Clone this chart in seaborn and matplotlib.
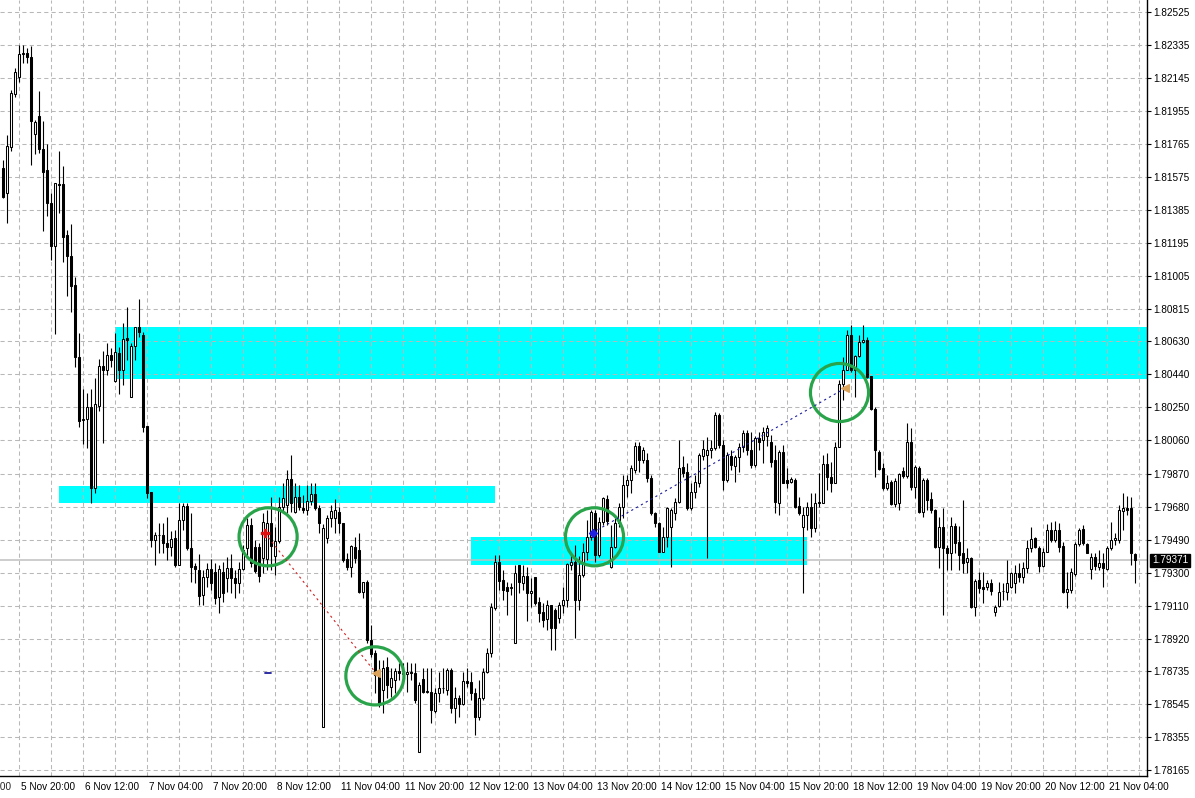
import numpy as np
import pandas as pd
import matplotlib
matplotlib.use("Agg")
import matplotlib.pyplot as plt
import matplotlib.transforms as mtransforms
from matplotlib.patches import Rectangle
import seaborn as sns

# hourly candles, oldest first
opens = [
    1.81626, 1.81486, 1.81751, 1.82052, 1.82153, 1.82283, 1.82291, 1.82264, 1.81821, 1.81927,
    1.81737, 1.81616, 1.81425, 1.81179, 1.81536, 1.81534, 1.81243, 1.81124, 1.80955, 1.80543,
    1.80179, 1.80182, 1.80251, 1.79786, 1.80261, 1.80489, 1.80466, 1.80552, 1.80405, 1.80562,
    1.80466, 1.80648, 1.80313, 1.80604, 1.80715, 1.80667, 1.80144, 1.79766, 1.79488, 1.79517,
    1.79517, 1.79469, 1.79449, 1.79498, 1.79344, 1.79603, 1.79684, 1.79440, 1.79336, 1.79315,
    1.79171, 1.79277, 1.79319, 1.79305, 1.79162, 1.79305, 1.79268, 1.79325, 1.79271, 1.79242,
    1.79319, 1.79440, 1.79574, 1.79446, 1.79446, 1.79383, 1.79377, 1.79587, 1.79396, 1.79484,
    1.79679, 1.79689, 1.79837, 1.79651, 1.79737, 1.79674, 1.79661, 1.79712, 1.79751, 1.79670,
    1.78414, 1.79498, 1.79613, 1.79614, 1.79651, 1.79587, 1.79377, 1.79334, 1.79449, 1.79430,
    1.79191, 1.79248, 1.78913, 1.78836, 1.78725, 1.78625, 1.78756, 1.78644, 1.78683, 1.78736,
    1.78721, 1.78717, 1.78729, 1.78721, 1.78270, 1.78687, 1.78615, 1.78615, 1.78506, 1.78606,
    1.78635, 1.78625, 1.78740, 1.78520, 1.78577, 1.78545, 1.78679, 1.78673, 1.78610, 1.78472,
    1.78577, 1.78730, 1.78836, 1.79095, 1.79363, 1.79258, 1.79216, 1.79213, 1.78897, 1.79344,
    1.79242, 1.79281, 1.79181, 1.79273, 1.79133, 1.79076, 1.79032, 1.79114, 1.79085, 1.79038,
    1.79114, 1.79143, 1.79344, 1.79363, 1.79143, 1.79287, 1.79421, 1.79507, 1.79641, 1.79402,
    1.79593, 1.79722, 1.79334, 1.79449, 1.79584, 1.79679, 1.79804, 1.79833, 1.79891, 1.80029,
    1.79948, 1.79948, 1.79843, 1.79641, 1.79587, 1.79421, 1.79507, 1.79564, 1.79641, 1.79708,
    1.79910, 1.79881, 1.79670, 1.79766, 1.79814, 1.79971, 1.79977, 1.80006, 1.80017, 1.80207,
    1.80034, 1.79833, 1.79971, 1.79914, 1.79965, 1.80023, 1.80103, 1.80006, 1.79919, 1.80075,
    1.80063, 1.80086, 1.80053, 1.79948, 1.79702, 1.79996, 1.79833, 1.79823, 1.79833, 1.79684,
    1.79564, 1.79632, 1.79679, 1.79555, 1.79699, 1.79702, 1.79925, 1.79852, 1.79817, 1.80025,
    1.80385, 1.80466, 1.80667, 1.80466, 1.80546, 1.80625, 1.80638, 1.80431, 1.80240, 1.79996,
    1.79900, 1.79785, 1.79823, 1.79695, 1.79699, 1.79887, 1.79856, 1.80053, 1.79795, 1.79900,
    1.79651, 1.79833, 1.79722, 1.79661, 1.79449, 1.79564, 1.79440, 1.79415, 1.79568, 1.79478,
    1.79411, 1.79363, 1.79386, 1.79104, 1.79258, 1.79219, 1.79219, 1.79242, 1.79076, 1.79110,
    1.79195, 1.79187, 1.79219, 1.79242, 1.79296, 1.79277, 1.79325, 1.79440, 1.79498, 1.79444,
    1.79340, 1.79421, 1.79545, 1.79488, 1.79545, 1.79455, 1.79191, 1.79200, 1.79292, 1.79463,
    1.79549, 1.79465, 1.79319, 1.79392, 1.79334, 1.79357, 1.79323, 1.79440, 1.79488, 1.79488,
    1.79655, 1.79674, 1.79670, 1.79407,
]
highs = [
    1.81674, 1.81818, 1.82076, 1.82201, 1.82335, 1.82335, 1.82316, 1.82331, 1.81904, 1.82071,
    1.81900, 1.81766, 1.81482, 1.81544, 1.81726, 1.81639, 1.81271, 1.81306, 1.81003, 1.80677,
    1.80355, 1.80336, 1.80355, 1.80418, 1.80530, 1.80576, 1.80620, 1.80591, 1.80677, 1.80600,
    1.80735, 1.80830, 1.80620, 1.80715, 1.80873, 1.80687, 1.80144, 1.79766, 1.79536, 1.79586,
    1.79587, 1.79622, 1.79540, 1.79545, 1.79699, 1.79699, 1.79699, 1.79641, 1.79354, 1.79407,
    1.79315, 1.79354, 1.79377, 1.79354, 1.79344, 1.79363, 1.79392, 1.79407, 1.79315, 1.79363,
    1.79459, 1.79613, 1.79613, 1.79488, 1.79469, 1.79641, 1.79661, 1.79737, 1.79564, 1.79737,
    1.79814, 1.79891, 1.79977, 1.79814, 1.79804, 1.79747, 1.79804, 1.79814, 1.79814, 1.79689,
    1.79580, 1.79632, 1.79689, 1.79722, 1.79679, 1.79587, 1.79411, 1.79459, 1.79507, 1.79526,
    1.79248, 1.79258, 1.78999, 1.78855, 1.78798, 1.78798, 1.78817, 1.78752, 1.78750, 1.78779,
    1.78779, 1.78788, 1.78781, 1.78779, 1.78673, 1.78750, 1.78750, 1.78750, 1.78635, 1.78730,
    1.78750, 1.78750, 1.78750, 1.78644, 1.78596, 1.78730, 1.78750, 1.78730, 1.78635, 1.78683,
    1.78750, 1.78865, 1.79124, 1.79402, 1.79402, 1.79315, 1.79248, 1.79239, 1.79344, 1.79344,
    1.79344, 1.79334, 1.79268, 1.79277, 1.79162, 1.79124, 1.79143, 1.79114, 1.79095, 1.79133,
    1.79219, 1.79356, 1.79411, 1.79459, 1.79396, 1.79469, 1.79603, 1.79661, 1.79661, 1.79622,
    1.79737, 1.79747, 1.79574, 1.79613, 1.79699, 1.79862, 1.79862, 1.79919, 1.80053, 1.80053,
    1.80025, 1.79987, 1.79862, 1.79651, 1.79593, 1.79564, 1.79679, 1.79670, 1.79728, 1.80063,
    1.79971, 1.79929, 1.79814, 1.79862, 1.79987, 1.80063, 1.80080, 1.80063, 1.80224, 1.80218,
    1.80063, 1.79994, 1.80006, 1.79977, 1.80046, 1.80121, 1.80121, 1.80109, 1.80086, 1.80109,
    1.80138, 1.80149, 1.80092, 1.80034, 1.80006, 1.80034, 1.79900, 1.79852, 1.79843, 1.79737,
    1.79679, 1.79708, 1.79756, 1.79760, 1.79872, 1.79977, 1.79987, 1.79938, 1.80053, 1.80408,
    1.80542, 1.80697, 1.80725, 1.80552, 1.80667, 1.80725, 1.80657, 1.80431, 1.80255, 1.80006,
    1.79929, 1.79862, 1.79833, 1.79843, 1.79872, 1.79910, 1.80159, 1.80130, 1.79919, 1.79914,
    1.79843, 1.79843, 1.79766, 1.79665, 1.79622, 1.79670, 1.79459, 1.79622, 1.79584, 1.79568,
    1.79718, 1.79440, 1.79392, 1.79262, 1.79305, 1.79305, 1.79258, 1.79262, 1.79114, 1.79248,
    1.79239, 1.79373, 1.79305, 1.79344, 1.79354, 1.79363, 1.79488, 1.79561, 1.79507, 1.79453,
    1.79440, 1.79580, 1.79593, 1.79599, 1.79584, 1.79478, 1.79305, 1.79325, 1.79478, 1.79559,
    1.79574, 1.79469, 1.79411, 1.79415, 1.79430, 1.79411, 1.79453, 1.79593, 1.79526, 1.79689,
    1.79760, 1.79741, 1.79737, 1.79411,
]
lows = [
    1.81453, 1.81310, 1.81728, 1.82038, 1.82121, 1.82230, 1.82230, 1.81645, 1.81706, 1.81712,
    1.81267, 1.81354, 1.81099, 1.80671, 1.81367, 1.81085, 1.80894, 1.80802, 1.80485, 1.80140,
    1.80039, 1.80016, 1.79703, 1.79757, 1.80227, 1.80044, 1.80437, 1.80485, 1.80399, 1.80328,
    1.80380, 1.80524, 1.80313, 1.80524, 1.80658, 1.80111, 1.79732, 1.79449, 1.79344, 1.79413,
    1.79411, 1.79373, 1.79396, 1.79334, 1.79344, 1.79545, 1.79430, 1.79246, 1.79240, 1.79114,
    1.79114, 1.79219, 1.79200, 1.79120, 1.79066, 1.79133, 1.79191, 1.79181, 1.79153, 1.79181,
    1.79315, 1.79383, 1.79334, 1.79300, 1.79248, 1.79296, 1.79315, 1.79315, 1.79287, 1.79469,
    1.79651, 1.79641, 1.79651, 1.79641, 1.79661, 1.79641, 1.79632, 1.79689, 1.79661, 1.79526,
    1.78414, 1.79469, 1.79564, 1.79526, 1.79526, 1.79363, 1.79315, 1.79277, 1.79354, 1.79181,
    1.79153, 1.78894, 1.78817, 1.78606, 1.78529, 1.78491, 1.78577, 1.78587, 1.78606, 1.78683,
    1.78663, 1.78615, 1.78683, 1.78549, 1.78270, 1.78606, 1.78606, 1.78434, 1.78491, 1.78558,
    1.78606, 1.78596, 1.78491, 1.78434, 1.78472, 1.78539, 1.78644, 1.78568, 1.78366, 1.78453,
    1.78568, 1.78721, 1.78817, 1.79085, 1.79200, 1.79143, 1.79057, 1.79171, 1.78897, 1.79181,
    1.79200, 1.79024, 1.79104, 1.79114, 1.79018, 1.78989, 1.78970, 1.78855, 1.78855, 1.79012,
    1.79066, 1.79104, 1.79315, 1.78922, 1.79085, 1.79277, 1.79373, 1.79488, 1.79363, 1.79392,
    1.79574, 1.79574, 1.79325, 1.79440, 1.79564, 1.79613, 1.79737, 1.79756, 1.79872, 1.79881,
    1.79929, 1.79823, 1.79632, 1.79564, 1.79421, 1.79421, 1.79449, 1.79334, 1.79603, 1.79699,
    1.79852, 1.79661, 1.79661, 1.79728, 1.79795, 1.79948, 1.79384, 1.79960, 1.80006, 1.80017,
    1.79776, 1.79821, 1.79891, 1.79821, 1.79879, 1.79994, 1.79977, 1.79902, 1.79908, 1.80006,
    1.79931, 1.80029, 1.79910, 1.79641, 1.79632, 1.79814, 1.79785, 1.79814, 1.79670, 1.79632,
    1.79181, 1.79545, 1.79507, 1.79536, 1.79679, 1.79699, 1.79776, 1.79766, 1.79814, 1.80025,
    1.80293, 1.80466, 1.80456, 1.80312, 1.80542, 1.80619, 1.80418, 1.80236, 1.79852, 1.79891,
    1.79776, 1.79776, 1.79689, 1.79679, 1.79661, 1.79843, 1.79843, 1.79776, 1.79728, 1.79641,
    1.79622, 1.79661, 1.79641, 1.79440, 1.79325, 1.79057, 1.79315, 1.79315, 1.79411, 1.79315,
    1.79296, 1.79296, 1.79095, 1.79051, 1.79181, 1.79124, 1.79200, 1.79171, 1.79051, 1.79104,
    1.79143, 1.79143, 1.79210, 1.79181, 1.79248, 1.79239, 1.79296, 1.79421, 1.79440, 1.79305,
    1.79334, 1.79421, 1.79478, 1.79478, 1.79421, 1.79181, 1.79095, 1.79181, 1.79281, 1.79453,
    1.79459, 1.79411, 1.79262, 1.79315, 1.79315, 1.79219, 1.79315, 1.79430, 1.79459, 1.79469,
    1.79545, 1.79632, 1.79344, 1.79239,
]
closes = [
    1.81463, 1.81754, 1.82057, 1.82178, 1.82283, 1.82287, 1.82264, 1.81900, 1.81894, 1.81735,
    1.81607, 1.81425, 1.81179, 1.81540, 1.81528, 1.81233, 1.81124, 1.80951, 1.80543, 1.80175,
    1.80186, 1.80251, 1.79786, 1.80269, 1.80489, 1.80466, 1.80552, 1.80524, 1.80568, 1.80466,
    1.80645, 1.80639, 1.80604, 1.80715, 1.80687, 1.80140, 1.79757, 1.79488, 1.79517, 1.79514,
    1.79469, 1.79446, 1.79492, 1.79344, 1.79603, 1.79684, 1.79440, 1.79333, 1.79318, 1.79166,
    1.79277, 1.79319, 1.79242, 1.79156, 1.79319, 1.79185, 1.79325, 1.79268, 1.79242, 1.79319,
    1.79430, 1.79574, 1.79354, 1.79311, 1.79283, 1.79593, 1.79587, 1.79453, 1.79484, 1.79679,
    1.79728, 1.79837, 1.79699, 1.79737, 1.79676, 1.79661, 1.79712, 1.79751, 1.79670, 1.79584,
    1.79555, 1.79613, 1.79655, 1.79661, 1.79584, 1.79373, 1.79334, 1.79453, 1.79383, 1.79191,
    1.79248, 1.78913, 1.78832, 1.78711, 1.78539, 1.78750, 1.78654, 1.78692, 1.78736, 1.78721,
    1.78717, 1.78729, 1.78725, 1.78568, 1.78654, 1.78615, 1.78619, 1.78510, 1.78606, 1.78635,
    1.78637, 1.78740, 1.78520, 1.78577, 1.78545, 1.78679, 1.78667, 1.78610, 1.78472, 1.78577,
    1.78730, 1.78836, 1.79104, 1.79363, 1.79254, 1.79200, 1.79196, 1.79218, 1.79300, 1.79248,
    1.79281, 1.79181, 1.79195, 1.79124, 1.79066, 1.79028, 1.79114, 1.78980, 1.78980, 1.79114,
    1.79143, 1.79347, 1.79363, 1.79143, 1.79287, 1.79421, 1.79507, 1.79651, 1.79402, 1.79593,
    1.79728, 1.79597, 1.79449, 1.79584, 1.79679, 1.79804, 1.79833, 1.79900, 1.80029, 1.79948,
    1.80006, 1.79843, 1.79641, 1.79587, 1.79421, 1.79507, 1.79670, 1.79661, 1.79708, 1.79904,
    1.79875, 1.79670, 1.79766, 1.79823, 1.79977, 1.80010, 1.80006, 1.80017, 1.80207, 1.80034,
    1.79833, 1.79977, 1.79919, 1.79965, 1.80023, 1.80103, 1.80006, 1.79919, 1.80075, 1.80052,
    1.80109, 1.80132, 1.79938, 1.79708, 1.79996, 1.79817, 1.79817, 1.79837, 1.79679, 1.79641,
    1.79632, 1.79679, 1.79555, 1.79702, 1.79708, 1.79925, 1.79852, 1.79814, 1.80025, 1.80385,
    1.80466, 1.80667, 1.80466, 1.80546, 1.80625, 1.80638, 1.80427, 1.80240, 1.80006, 1.79895,
    1.79785, 1.79817, 1.79695, 1.79829, 1.79868, 1.79856, 1.80053, 1.79795, 1.79910, 1.79651,
    1.79833, 1.79718, 1.79661, 1.79446, 1.79564, 1.79440, 1.79415, 1.79568, 1.79469, 1.79402,
    1.79357, 1.79386, 1.79104, 1.79252, 1.79210, 1.79206, 1.79239, 1.79196, 1.79104, 1.79191,
    1.79193, 1.79239, 1.79296, 1.79296, 1.79277, 1.79329, 1.79444, 1.79494, 1.79449, 1.79340,
    1.79421, 1.79545, 1.79488, 1.79545, 1.79449, 1.79191, 1.79204, 1.79305, 1.79463, 1.79545,
    1.79469, 1.79415, 1.79392, 1.79338, 1.79354, 1.79325, 1.79444, 1.79488, 1.79498, 1.79661,
    1.79674, 1.79661, 1.79411, 1.79371,
]

time_labels = ["5 Nov 20:00", "6 Nov 12:00", "7 Nov 04:00", "7 Nov 20:00", "8 Nov 12:00",
               "11 Nov 04:00", "11 Nov 20:00", "12 Nov 12:00", "13 Nov 04:00", "13 Nov 20:00",
               "14 Nov 12:00", "15 Nov 04:00", "15 Nov 20:00", "18 Nov 12:00", "19 Nov 04:00",
               "19 Nov 20:00", "20 Nov 12:00", "21 Nov 04:00"]
time_label_bars = list(range(4, 277, 16))
price_ticks = [1.82525, 1.82335, 1.82145, 1.81955, 1.81765, 1.81575, 1.81385, 1.81195,
               1.81005, 1.80815, 1.80630, 1.80440, 1.80250, 1.80060, 1.79870, 1.79680,
               1.79490, 1.79300, 1.79110, 1.78920, 1.78735, 1.78545, 1.78355, 1.78165]
last_price = 1.79371

# zones: first bar, last bar, top, bottom (first one runs to the right edge)
zone_first_bar = [28, 14, 117]
zone_last_bar = [300, 123, 201]
zone_top = [1.80715, 1.79799, 1.79507]
zone_bottom = [1.80413, 1.79699, 1.79341]

# green circles around the signals
circle_bars = [66.2, 92.9, 147.8, 209.05]
circle_prices = [1.79506, 1.78706, 1.79506, 1.80336]

# dotted trade lines: entry -> exit
sell_bars = [65.4, 93.2]
sell_prices = [1.79527, 1.78721]
buy_bars = [147.35, 210.4]
buy_prices = [1.79530, 1.80360]

sns.set_style("white")
plt.rcParams["font.family"] = ["Liberation Sans", "DejaVu Sans"]

df = pd.DataFrame(dict(open=opens, high=highs, low=lows, close=closes))
df["bar"] = np.arange(len(df))
df["bull"] = df["close"] >= df["open"]

fig = plt.figure(figsize=(11.95, 7.98), dpi=100)
ax = fig.add_axes([0, 22 / 798, 1147 / 1195, 776 / 798])
ax.set_xlim(-0.825, 285.925)
ax.set_ylim(1.78130, 1.82594)

for b0, b1, top, bot in zip(zone_first_bar, zone_last_bar, zone_top, zone_bottom):
    ax.add_patch(Rectangle((b0, bot), b1 - b0, top - bot,
                           facecolor="#00ffff", edgecolor="none", zorder=1))

grid_kw = dict(color="#b8b8b8", lw=0.75, ls=(0, (4, 3)), zorder=1.5)
for b in range(4, 286, 8):
    ax.axvline(b, **grid_kw)
for p in price_ticks:
    ax.axhline(p, **grid_kw)
ax.axhline(last_price, color="#c0c0c0", lw=1.1, zorder=2)

# candles
ax.vlines(df["bar"], df["low"], df["high"], color="black", lw=0.8, zorder=3)
body_bottom = df[["open", "close"]].min(axis=1)
body_height = (df["close"] - df["open"]).abs()
ax.bar(df["bar"], body_height, bottom=body_bottom, width=0.5,
       color=np.where(df["bull"], "white", "black"), edgecolor="black",
       linewidth=0.75, zorder=4)

# signals
ax.scatter(circle_bars, circle_prices, s=1750, facecolors="none",
           edgecolors="#2aa44a", linewidths=2.3, zorder=6)
ax.plot(sell_bars, sell_prices, color="#d02020", lw=0.8, ls=(0, (2, 3)), zorder=7)
ax.plot(buy_bars, buy_prices, color="#1c1c9c", lw=0.8, ls=(0, (2, 3)), zorder=7)
ax.scatter(sell_bars[:1], sell_prices[:1], marker="P", s=28, color="#e01010", zorder=8)
ax.scatter(buy_bars[:1], buy_prices[:1], marker="D", s=16, color="#2020e0", zorder=8)
ax.scatter([sell_bars[1], buy_bars[1]], [sell_prices[1], buy_prices[1]],
           marker="<", s=30, color="#daa25a", zorder=8)
ax.plot([65.3, 66.8], [sell_prices[1], sell_prices[1]], color="#1c1c9c", lw=1.3, zorder=7)

# axes
ax.yaxis.tick_right()
ax.set_yticks(price_ticks)
ax.set_yticklabels([f"{p:.5f}" for p in price_ticks])
ax.set_xticks(time_label_bars)
ax.set_xticklabels(time_labels, ha="left")
ax.tick_params(axis="both", direction="out", length=3, width=0.8,
               labelsize=7.2, colors="black", pad=1.5)
shift = mtransforms.ScaledTranslation(2 / 100, 0, fig.dpi_scale_trans)
for lab in ax.get_xticklabels():
    lab.set_transform(lab.get_transform() + shift)
for side in ["left", "top"]:
    ax.spines[side].set_visible(False)
for side in ["right", "bottom"]:
    ax.spines[side].set_color("black")
    ax.spines[side].set_linewidth(1)
ax.grid(False)

# half-visible first date label on the left edge
trans = mtransforms.blended_transform_factory(ax.transData, ax.transAxes)
ax.text(-12, 0, "5 Nov 04:00", fontsize=7.2, ha="left", va="top", clip_on=False,
        transform=trans + mtransforms.ScaledTranslation(2 / 100, -4.5 / 72, fig.dpi_scale_trans))

# current price tag
ytrans = mtransforms.blended_transform_factory(ax.transAxes, ax.transData)
ax.text(1.0, last_price, f"{last_price:.5f}", color="white", fontsize=7.2,
        ha="left", va="center", clip_on=False, zorder=10,
        transform=ytrans + mtransforms.ScaledTranslation(5 / 100, 0, fig.dpi_scale_trans),
        bbox=dict(facecolor="black", edgecolor="black", pad=1.2))

fig.savefig("out.png", dpi=100)
